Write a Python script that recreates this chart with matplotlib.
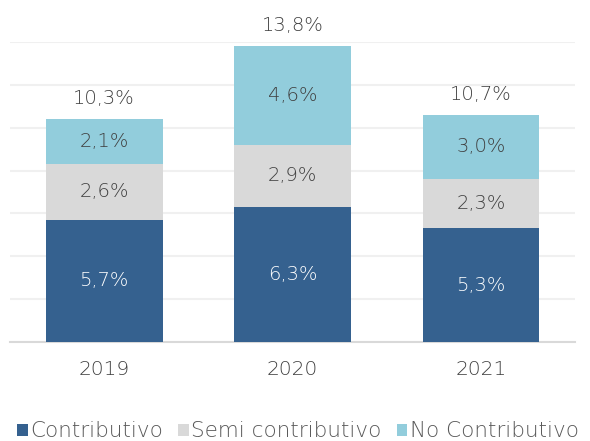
import matplotlib.pyplot as plt
import numpy as np

years = ['2019', '2020', '2021']
contributivo = [5.7, 6.3, 5.3]
semi = [2.6, 2.9, 2.3]
no_contrib = [2.1, 4.6, 3.0]
totales = [10.3, 13.8, 10.7]

c_dark = '#35618F'
c_gray = '#D9D9D9'
c_light = '#92CDDC'
txt = '#404040'

plt.rcParams['font.family'] = ['DejaVu Sans']
fs = 14
fw = 'light'

fig = plt.figure(figsize=(5.9, 4.41), dpi=100)
ax = fig.add_axes([0.017, 0.2245, 0.958, 0.6805])

x = np.arange(len(years))
w = 0.62
b1 = np.array(contributivo)
b2 = b1 + np.array(semi)
b3 = b2 + np.array(no_contrib)

ax.bar(x, contributivo, w, color=c_dark, label='Contributivo', zorder=3)
ax.bar(x, semi, w, bottom=b1, color=c_gray, label='Semi contributivo', zorder=3)
ax.bar(x, no_contrib, w, bottom=b2, color=c_light, label='No Contributivo', zorder=3)

def fmt(v):
    return f'{v:.1f}%'.replace('.', ',')

for i in range(len(years)):
    ax.text(x[i], contributivo[i] / 2, fmt(contributivo[i]), ha='center', va='center',
            color='white', fontsize=fs, fontweight=fw, zorder=4)
    ax.text(x[i], b1[i] + semi[i] / 2, fmt(semi[i]), ha='center', va='center',
            color=txt, fontsize=fs, fontweight=fw, zorder=4)
    ax.text(x[i], b2[i] + no_contrib[i] / 2, fmt(no_contrib[i]), ha='center', va='center',
            color=txt, fontsize=fs, fontweight=fw, zorder=4)
    ax.text(x[i], b3[i] + 0.5, fmt(totales[i]), ha='center', va='bottom',
            color=txt, fontsize=fs, fontweight=fw, zorder=4)

ax.set_xlim(-0.5, 2.5)
ax.set_ylim(0, 14)
ax.set_yticks(np.arange(0, 15, 2))
ax.yaxis.grid(True, color='#F0F0F0', linewidth=1.5, zorder=0)
ax.set_yticklabels([])
ax.tick_params(axis='y', length=0)
ax.set_xticks(x)
ax.set_xticklabels(years, fontsize=14.5, color=txt, fontweight=fw)
ax.tick_params(axis='x', length=0, pad=13)
for s in ['top', 'right', 'left']:
    ax.spines[s].set_visible(False)
ax.spines['bottom'].set_color('#D9D9D9')
ax.spines['bottom'].set_linewidth(1.5)

fig.legend(loc='lower center', bbox_to_anchor=(0.505, -0.045), ncol=3, frameon=False,
           handlelength=0.5, handleheight=0.5, handletextpad=0.1,
           columnspacing=0.7, labelcolor='#595959', prop={'weight': fw, 'size': 15.5})

fig.savefig('out.png', dpi=100)
